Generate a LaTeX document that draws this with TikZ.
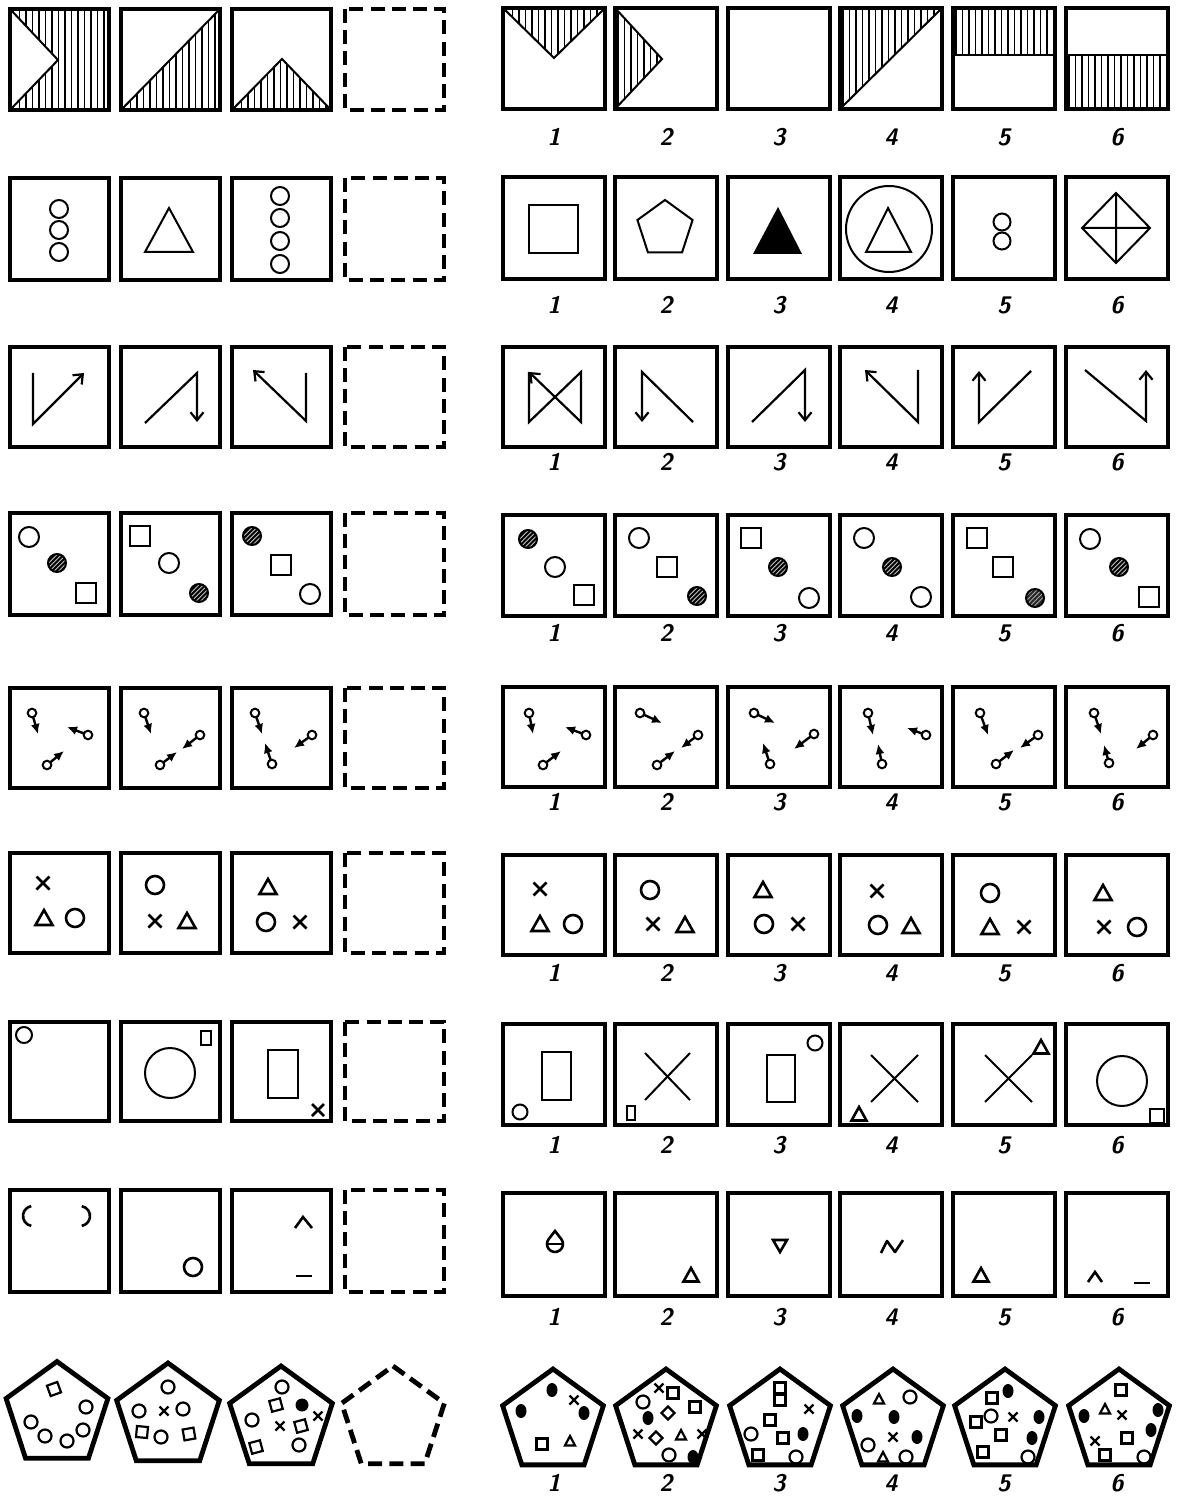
\documentclass[tikz,border=0pt]{standalone}
\usetikzlibrary{arrows.meta,calc}
\newcommand{\zzvh}[1]{\begin{scope}\clip #1; \foreach \hx in {3,9.5,...,104} \draw[hl] (\hx,-2)--(\hx,104); \end{scope}}
\newcommand{\zzhc}[3][9]{\fill[black!25] (#2,#3) circle (#1);\begin{scope}[shift={(#2,#3)}]\clip (0,0) circle (#1); \foreach \t in {-24,-19.5,...,24} \draw[line width=0.9pt] (\t-14,14)--(\t+14,-14); \end{scope}\draw[thinl] (#2,#3) circle (#1);}
\newcommand{\zzhcd}[3][9]{\fill[black!85] (#2,#3) circle (#1);\begin{scope}[shift={(#2,#3)}]\clip (0,0) circle (#1); \foreach \t in {-24,-19.5,...,24} \draw[line width=0.5pt,black!35] (\t-14,14)--(\t+14,-14); \end{scope}\draw[thinl] (#2,#3) circle (#1);}
\newcommand{\zzoc}[3][10]{\draw[thinl] (#2,#3) circle (#1);}
\newcommand{\zzsq}[3][10]{\draw[thinl] (#2-#1,#3-#1) rectangle (#2+#1,#3+#1);}
\newcommand{\zzspm}[4]{\draw[thinl] (#1,#2) circle (4.3); \draw[arr] ($(#1,#2)!2.15pt!(#3,#4)$) -- (#3,#4);}
\newcommand{\zzT}[2]{\draw[sym] (#1-8.5,#2+7)--(#1,#2-8)--(#1+8.5,#2+7)--cycle;}
\newcommand{\zzX}[2]{\draw[sym] (#1-6.5,#2-6.5)--(#1+6.5,#2+6.5) (#1-6.5,#2+6.5)--(#1+6.5,#2-6.5);}
\newcommand{\zzO}[2]{\draw[sym] (#1,#2) circle (9);}
\newcommand{\zzsT}[2]{\draw[sym] (#1-7.5,#2+6.5)--(#1,#2-7)--(#1+7.5,#2+6.5)--cycle;}
\newcommand{\zzpO}[2]{\draw[psym] (#1,#2) circle (6.5);}
\newcommand{\zzpF}[2]{\fill (#1,#2) ellipse (5.5 and 7);}
\newcommand{\zzpS}[3][0]{\draw[psym,rotate around={#1:(#2,#3)}] (#2-5.5,#3-5.5) rectangle (#2+5.5,#3+5.5);}
\newcommand{\zzpX}[2]{\draw[psym] (#1-4.5,#2-4.5)--(#1+4.5,#2+4.5) (#1-4.5,#2+4.5)--(#1+4.5,#2-4.5);}
\newcommand{\zzpT}[2]{\draw[psym] (#1-5,#2+4.5)--(#1,#2-5)--(#1+5,#2+4.5)--cycle;}
\newcommand{\zzpD}[2]{\draw[psym] (#1-6.5,#2)--(#1,#2-6.5)--(#1+6.5,#2)--(#1,#2+6.5)--cycle;}
\newcommand{\zzpent}[4][box]{\begin{scope}[shift={(#2,#3)}]\draw[#1] (-90:#4)--(-18:#4)--(54:#4)--(126:#4)--(198:#4)--cycle;\end{scope}}
\newcommand{\zzbox}[2]{\draw[box] (0,0) rectangle (#1,#2);}
\newcommand{\zzdbox}[2]{\draw[dbox] (0,0) rectangle (#1,#2);}
\begin{document}
\begin{tikzpicture}[x=0.5pt,y=-0.5pt,
 box/.style={line width=2.4pt, line join=miter},
 dbox/.style={line width=2.4pt, dash pattern=on 7pt off 3.6pt},
 thinl/.style={line width=1pt},
 hl/.style={line width=0.7pt},
 sym/.style={line width=1.3pt, line join=miter},
 psym/.style={line width=1.1pt},
 arr/.style={line width=1.2pt, -{Latex[length=5pt,width=4.5pt]}},
 bigarr/.style={line width=1.1pt, line join=miter, -{Straight Barb[length=4pt,width=6.5pt]}},
 num/.style={font=\fontsize{12}{14}\sffamily\slshape\bfseries, inner sep=0pt}]
\fill[white] (0,0) rectangle (1184,1497);
\useasboundingbox (0,0) rectangle (1184,1497);

% ---------------- Row 1 ----------------
\begin{scope}[shift={(10,9)}]
 \zzvh{(0,0)--(99,0)--(99,101)--(0,101)--(48,51)--cycle}
 \draw[thinl] (0,0)--(48,51)--(0,101); \zzbox{99}{101}
\end{scope}
\begin{scope}[shift={(121,9)}]
 \zzvh{(0,101)--(99,0)--(99,101)--cycle}
 \draw[thinl] (0,101)--(99,0); \zzbox{99}{101}
\end{scope}
\begin{scope}[shift={(232,9)}]
 \zzvh{(0,101)--(50,50)--(99,101)--cycle}
 \draw[thinl] (0,101)--(50,50)--(99,101); \zzbox{99}{101}
\end{scope}
\begin{scope}[shift={(345,9)}] \zzdbox{99}{101} \end{scope}

\begin{scope}[shift={(503,8)}]
 \zzvh{(0,0)--(51,50)--(102,0)--cycle}
 \draw[thinl] (0,0)--(51,50)--(102,0); \zzbox{102}{101}
\end{scope}
\begin{scope}[shift={(615,8)}]
 \zzvh{(0,0)--(47,51)--(0,101)--cycle}
 \draw[thinl] (0,0)--(47,51)--(0,101); \zzbox{102}{101}
\end{scope}
\begin{scope}[shift={(728,8)}] \zzbox{102}{101} \end{scope}
\begin{scope}[shift={(840,8)}]
 \zzvh{(0,0)--(102,0)--(0,101)--cycle}
 \draw[thinl] (0,101)--(102,0); \zzbox{102}{101}
\end{scope}
\begin{scope}[shift={(953,8)}]
 \zzvh{(0,0) rectangle (102,47)}
 \draw[thinl] (0,47)--(102,47); \zzbox{102}{101}
\end{scope}
\begin{scope}[shift={(1066,8)}]
 \zzvh{(0,47) rectangle (102,101)}
 \draw[thinl] (0,47)--(102,47); \zzbox{102}{101}
\end{scope}

% ---------------- Row 2 ----------------
\begin{scope}[shift={(10,178)}]
 \zzoc[9]{49}{31} \zzoc[9]{49}{52} \zzoc[9]{49}{74} \zzbox{99}{102}
\end{scope}
\begin{scope}[shift={(121,178)}]
 \draw[thinl] (24,74)--(72,74)--(48,30)--cycle; \zzbox{99}{102}
\end{scope}
\begin{scope}[shift={(232,178)}]
 \zzoc[9]{48}{18} \zzoc[9]{48}{40} \zzoc[9]{48}{63} \zzoc[9]{48}{86} \zzbox{99}{102}
\end{scope}
\begin{scope}[shift={(345,178)}] \zzdbox{99}{102} \end{scope}

\begin{scope}[shift={(503,177)}]
 \draw[thinl] (26,28) rectangle (75,76); \zzbox{102}{102}
\end{scope}
\begin{scope}[shift={(615,177)}]
 \begin{scope}[shift={(50,52)}]\draw[thinl] (-90:29)--(-18:29)--(54:29)--(126:29)--(198:29)--cycle;\end{scope}
 \zzbox{102}{102}
\end{scope}
\begin{scope}[shift={(728,177)}]
 \fill (25,77)--(74,77)--(50,30)--cycle; \zzbox{102}{102}
\end{scope}
\begin{scope}[shift={(840,177)}]
 \draw[thinl] (49,52) circle (43);
 \draw[thinl] (26,75)--(71,75)--(48,31)--cycle; \zzbox{102}{102}
\end{scope}
\begin{scope}[shift={(953,177)}]
 \zzoc[8.5]{49}{45} \zzoc[8.5]{49}{64} \zzbox{102}{102}
\end{scope}
\begin{scope}[shift={(1066,177)}]
 \draw[thinl] (16,51)--(50,16)--(84,51)--(50,86)--cycle (16,51)--(84,51) (50,16)--(50,86);
 \zzbox{102}{102}
\end{scope}

% ---------------- Row 3 ----------------
\begin{scope}[shift={(10,347)}]
 \draw[bigarr] (23,26)--(23,77)--(74,26); \zzbox{99}{100}
\end{scope}
\begin{scope}[shift={(121,347)}]
 \draw[bigarr] (24,76)--(76,26)--(76,75); \zzbox{99}{100}
\end{scope}
\begin{scope}[shift={(232,347)}]
 \draw[bigarr] (74,26)--(74,74)--(21,23); \zzbox{99}{100}
\end{scope}
\begin{scope}[shift={(345,347)}] \zzdbox{99}{100} \end{scope}

\begin{scope}[shift={(503,347)}]
 \draw[bigarr] (26,25)--(26,75)--(78,25)--(78,75)--(26,25); \zzbox{102}{100}
\end{scope}
\begin{scope}[shift={(615,347)}]
 \draw[bigarr] (78,75)--(27,25)--(27,75); \zzbox{102}{100}
\end{scope}
\begin{scope}[shift={(728,347)}]
 \draw[bigarr] (24,75)--(77,23)--(77,75); \zzbox{102}{100}
\end{scope}
\begin{scope}[shift={(840,347)}]
 \draw[bigarr] (78,23)--(78,75)--(25,23); \zzbox{102}{100}
\end{scope}
\begin{scope}[shift={(953,347)}]
 \draw[bigarr] (78,24)--(26,75)--(26,24); \zzbox{102}{100}
\end{scope}
\begin{scope}[shift={(1066,347)}]
 \draw[bigarr] (19,23)--(80,74)--(80,23); \zzbox{102}{100}
\end{scope}

% ---------------- Row 4 ----------------
\begin{scope}[shift={(10,513)}]
 \zzoc{19}{24} \zzhc{47}{50} \zzsq{76}{80} \zzbox{99}{102}
\end{scope}
\begin{scope}[shift={(121,513)}]
 \zzsq{19}{23} \zzoc{48}{50} \zzhc{78}{80} \zzbox{99}{102}
\end{scope}
\begin{scope}[shift={(232,513)}]
 \zzhc{20}{23} \zzsq{49}{52} \zzoc{78}{81} \zzbox{99}{102}
\end{scope}
\begin{scope}[shift={(345,513)}] \zzdbox{99}{102} \end{scope}

\begin{scope}[shift={(503,515)}]
 \zzhc{25}{24} \zzoc{52}{52} \zzsq{81}{80} \zzbox{102}{101}
\end{scope}
\begin{scope}[shift={(615,515)}]
 \zzoc{24}{23} \zzsq{52}{52} \zzhc{82}{81} \zzbox{102}{101}
\end{scope}
\begin{scope}[shift={(728,515)}]
 \zzsq{23}{23} \zzhc{50}{52} \zzoc{81}{83} \zzbox{102}{101}
\end{scope}
\begin{scope}[shift={(840,515)}]
 \zzoc{24}{23} \zzhc{52}{52} \zzoc{81}{82} \zzbox{102}{101}
\end{scope}
\begin{scope}[shift={(953,515)}]
 \zzsq{24}{23} \zzsq{50}{52} \zzhcd{82}{83} \zzbox{102}{101}
\end{scope}
\begin{scope}[shift={(1066,515)}]
 \zzoc{24}{24} \zzhc{53}{52} \zzsq{83}{82} \zzbox{102}{101}
\end{scope}

% ---------------- Row 5 ----------------
\begin{scope}[shift={(10,688)}]
 \zzspm{22}{25}{28}{46} \zzspm{78}{47}{57}{39} \zzspm{37}{77}{54}{63} \zzbox{99}{100}
\end{scope}
\begin{scope}[shift={(121,688)}]
 \zzspm{23}{25}{30}{46} \zzspm{79}{47}{61}{61} \zzspm{39}{77}{56}{64} \zzbox{99}{100}
\end{scope}
\begin{scope}[shift={(232,688)}]
 \zzspm{23}{25}{30}{46} \zzspm{80}{47}{62}{60} \zzspm{40}{76}{33}{55} \zzbox{99}{100}
\end{scope}
\begin{scope}[shift={(345,688)}] \zzdbox{99}{100} \end{scope}

\begin{scope}[shift={(503,687)}]
 \zzspm{26}{26}{30}{47} \zzspm{83}{48}{62}{40} \zzspm{40}{78}{58}{64} \zzbox{102}{100}
\end{scope}
\begin{scope}[shift={(615,687)}]
 \zzspm{25}{26}{47}{36} \zzspm{83}{48}{66}{61} \zzspm{42}{78}{60}{64} \zzbox{102}{100}
\end{scope}
\begin{scope}[shift={(728,687)}]
 \zzspm{26}{26}{47}{36} \zzspm{86}{47}{66}{62} \zzspm{42}{77}{35}{56} \zzbox{102}{100}
\end{scope}
\begin{scope}[shift={(840,687)}]
 \zzspm{28}{26}{33}{48} \zzspm{86}{48}{67}{41} \zzspm{42}{77}{38}{57} \zzbox{102}{100}
\end{scope}
\begin{scope}[shift={(953,687)}]
 \zzspm{27}{26}{35}{48} \zzspm{85}{48}{67}{61} \zzspm{43}{77}{61}{63} \zzbox{102}{100}
\end{scope}
\begin{scope}[shift={(1066,687)}]
 \zzspm{28}{26}{35}{47} \zzspm{87}{48}{70}{62} \zzspm{43}{76}{38}{58} \zzbox{102}{100}
\end{scope}

% ---------------- Row 6 ----------------
\begin{scope}[shift={(10,853)}]
 \zzX{33}{30} \zzT{34}{65} \zzO{65}{65} \zzbox{99}{100}
\end{scope}
\begin{scope}[shift={(121,853)}]
 \zzO{34}{32} \zzX{34}{68} \zzT{66}{68} \zzbox{99}{100}
\end{scope}
\begin{scope}[shift={(232,853)}]
 \zzT{36}{34} \zzO{34}{69} \zzX{68}{69} \zzbox{99}{100}
\end{scope}
\begin{scope}[shift={(345,853)}] \zzdbox{99}{100} \end{scope}

\begin{scope}[shift={(503,855)}]
 \zzX{37}{34} \zzT{37}{69} \zzO{70}{69} \zzbox{102}{100}
\end{scope}
\begin{scope}[shift={(615,855)}]
 \zzO{35}{35} \zzX{38}{69} \zzT{70}{70} \zzbox{102}{100}
\end{scope}
\begin{scope}[shift={(728,855)}]
 \zzT{35}{35} \zzO{36}{69} \zzX{70}{69} \zzbox{102}{100}
\end{scope}
\begin{scope}[shift={(840,855)}]
 \zzX{37}{36} \zzO{38}{70} \zzT{71}{71} \zzbox{102}{100}
\end{scope}
\begin{scope}[shift={(953,855)}]
 \zzO{37}{38} \zzT{37}{72} \zzX{71}{72} \zzbox{102}{100}
\end{scope}
\begin{scope}[shift={(1066,855)}]
 \zzT{37}{38} \zzX{38}{72} \zzO{71}{72} \zzbox{102}{100}
\end{scope}

% ---------------- Row 7 ----------------
\begin{scope}[shift={(10,1022)}]
 \draw[thinl] (14,13) circle (8); \zzbox{99}{99}
\end{scope}
\begin{scope}[shift={(121,1022)}]
 \draw[thinl] (80,9) rectangle (90,23); \draw[thinl] (49,51) circle (25); \zzbox{99}{99}
\end{scope}
\begin{scope}[shift={(232,1022)}]
 \draw[thinl] (36,28) rectangle (66,76);
 \draw[sym] (80,82)--(92,94) (80,94)--(92,82); \zzbox{99}{99}
\end{scope}
\begin{scope}[shift={(345,1022)}] \zzdbox{99}{99} \end{scope}

\begin{scope}[shift={(503,1024)}]
 \draw[thinl] (39,28) rectangle (68,76); \draw[thinl] (17,88) circle (7.5); \zzbox{102}{101}
\end{scope}
\begin{scope}[shift={(615,1024)}]
 \draw[thinl] (30,29)--(75,76) (75,29)--(30,76);
 \draw[thinl] (12,82) rectangle (20,96); \zzbox{102}{101}
\end{scope}
\begin{scope}[shift={(728,1024)}]
 \draw[thinl] (39,31) rectangle (67,78); \draw[thinl] (87,19) circle (7.5); \zzbox{102}{101}
\end{scope}
\begin{scope}[shift={(840,1024)}]
 \draw[thinl] (31,31)--(78,78) (78,31)--(31,78);
 \zzsT{19}{90} \zzbox{102}{101}
\end{scope}
\begin{scope}[shift={(953,1024)}]
 \draw[thinl] (32,31)--(79,78) (79,31)--(32,78);
 \zzsT{88}{23} \zzbox{102}{101}
\end{scope}
\begin{scope}[shift={(1066,1024)}]
 \draw[thinl] (56,57) circle (25);
 \draw[sym] (84,85) rectangle (98,99); \zzbox{102}{101}
\end{scope}

% ---------------- Row 8 ----------------
\begin{scope}[shift={(10,1190)}]
 \draw[sym] ([shift={(100:10)}]23,26) arc (100:260:10);
 \draw[sym] ([shift={(-80:10)}]70,26) arc (-80:80:10);
 \zzbox{99}{102}
\end{scope}
\begin{scope}[shift={(121,1190)}]
 \draw[sym] (72,77) circle (9); \zzbox{99}{102}
\end{scope}
\begin{scope}[shift={(232,1190)}]
 \draw[sym] (63,38)--(71,27)--(80,38); \draw[sym] (64,86)--(80,86); \zzbox{99}{102}
\end{scope}
\begin{scope}[shift={(345,1190)}] \zzdbox{99}{102} \end{scope}

\begin{scope}[shift={(503,1193)}]
 \draw[sym] (52,38) -- ([shift={(-38:8)}]52,51) arc (-38:218:8) -- cycle;
 \draw[sym] (44,51)--(60,51); \zzbox{102}{103}
\end{scope}
\begin{scope}[shift={(615,1193)}]
 \zzsT{76}{82} \zzbox{102}{103}
\end{scope}
\begin{scope}[shift={(728,1193)}]
 \draw[sym] (45,47)--(59,47)--(52,59)--cycle; \zzbox{102}{103}
\end{scope}
\begin{scope}[shift={(840,1193)}]
 \draw[sym, line join=round] (41,60)--(47,48)--(55,59)--(63,47); \zzbox{102}{103}
\end{scope}
\begin{scope}[shift={(953,1193)}]
 \zzsT{28}{82} \zzbox{102}{103}
\end{scope}
\begin{scope}[shift={(1066,1193)}]
 \draw[sym] (22,89)--(29,79)--(36,89); \draw[sym] (68,90)--(84,90); \zzbox{102}{103}
\end{scope}

% ---------------- Row 9 : pentagons ----------------
\zzpent{57}{1415}{53.5}
\zzpS[20]{54}{1389} \zzpO{86}{1407} \zzpO{31}{1422} \zzpO{45}{1436} \zzpO{67}{1441} \zzpO{83}{1430}

\zzpent{168}{1417}{54}
\zzpO{168}{1387} \zzpO{139}{1411} \zzpX{164}{1411} \zzpO{183}{1409}
\zzpS[-5]{142}{1432} \zzpO{161}{1437} \zzpS[10]{189}{1434}

\zzpent{281}{1420}{54}
\zzpO{282}{1387} \zzpS[15]{276}{1405} \fill (302,1405) circle (6.5); \zzpO{252}{1420}
\zzpX{280}{1426} \zzpS[15]{301}{1426} \zzpX{318}{1416} \zzpS[15]{256}{1447} \zzpO{299}{1445}

\zzpent[dbox]{393}{1420}{54}

\zzpent{553}{1422}{53}
\zzpF{552}{1390} \zzpX{574}{1400} \zzpF{521}{1411} \zzpF{584}{1413} \zzpS{542}{1444} \zzpT{570}{1441}

\zzpent{666}{1422}{53}
\zzpX{659}{1388} \zzpS{673}{1393} \zzpO{643}{1402} \zzpS{695}{1407} \zzpD{668}{1413}
\zzpF{648}{1418} \zzpX{638}{1434} \zzpD{656}{1438} \zzpT{681}{1435} \zzpX{702}{1434}
\zzpO{669}{1455} \zzpF{693}{1457}

\zzpent{780}{1422}{53}
\zzpS{780}{1388} \zzpS{780}{1400} \zzpX{809}{1409} \zzpS{770}{1420} \zzpO{751}{1434}
\zzpS{783}{1438} \zzpF{803}{1434} \zzpS{758}{1455} \zzpO{796}{1457}

\zzpent{893}{1422}{53}
\zzpT{879}{1399} \zzpO{910}{1397} \zzpF{857}{1416} \zzpF{894}{1417} \zzpX{893}{1437}
\zzpF{917}{1437} \zzpO{868}{1445} \zzpT{883}{1457} \zzpO{906}{1457}

\zzpent{1005}{1422}{53}
\zzpS{992}{1398} \zzpF{1008}{1391} \zzpO{991}{1416} \zzpS{976}{1422} \zzpX{1013}{1417}
\zzpF{1039}{1417} \zzpS{1001}{1435} \zzpF{1032}{1438} \zzpS{983}{1452} \zzpO{1028}{1457}

\zzpent{1119}{1422}{53}
\zzpS{1121}{1390} \zzpF{1084}{1416} \zzpT{1105}{1409} \zzpX{1122}{1415} \zzpF{1158}{1410}
\zzpF{1151}{1430} \zzpX{1095}{1441} \zzpS{1127}{1438} \zzpS{1105}{1455} \zzpO{1144}{1457}

% ---------------- numbers ----------------
\foreach \yy/\rr in {137/a,305/b,462/c,633/d,802/e,973/f,1145/g,1317/h,1483/i} {
 \foreach \i/\xx in {1/554,2/666,3/779,4/891,5/1004,6/1117} {
  \node[num] (lab\rr\i) at (\xx,\yy) {\i};
 }
}
\end{tikzpicture}
\end{document}
